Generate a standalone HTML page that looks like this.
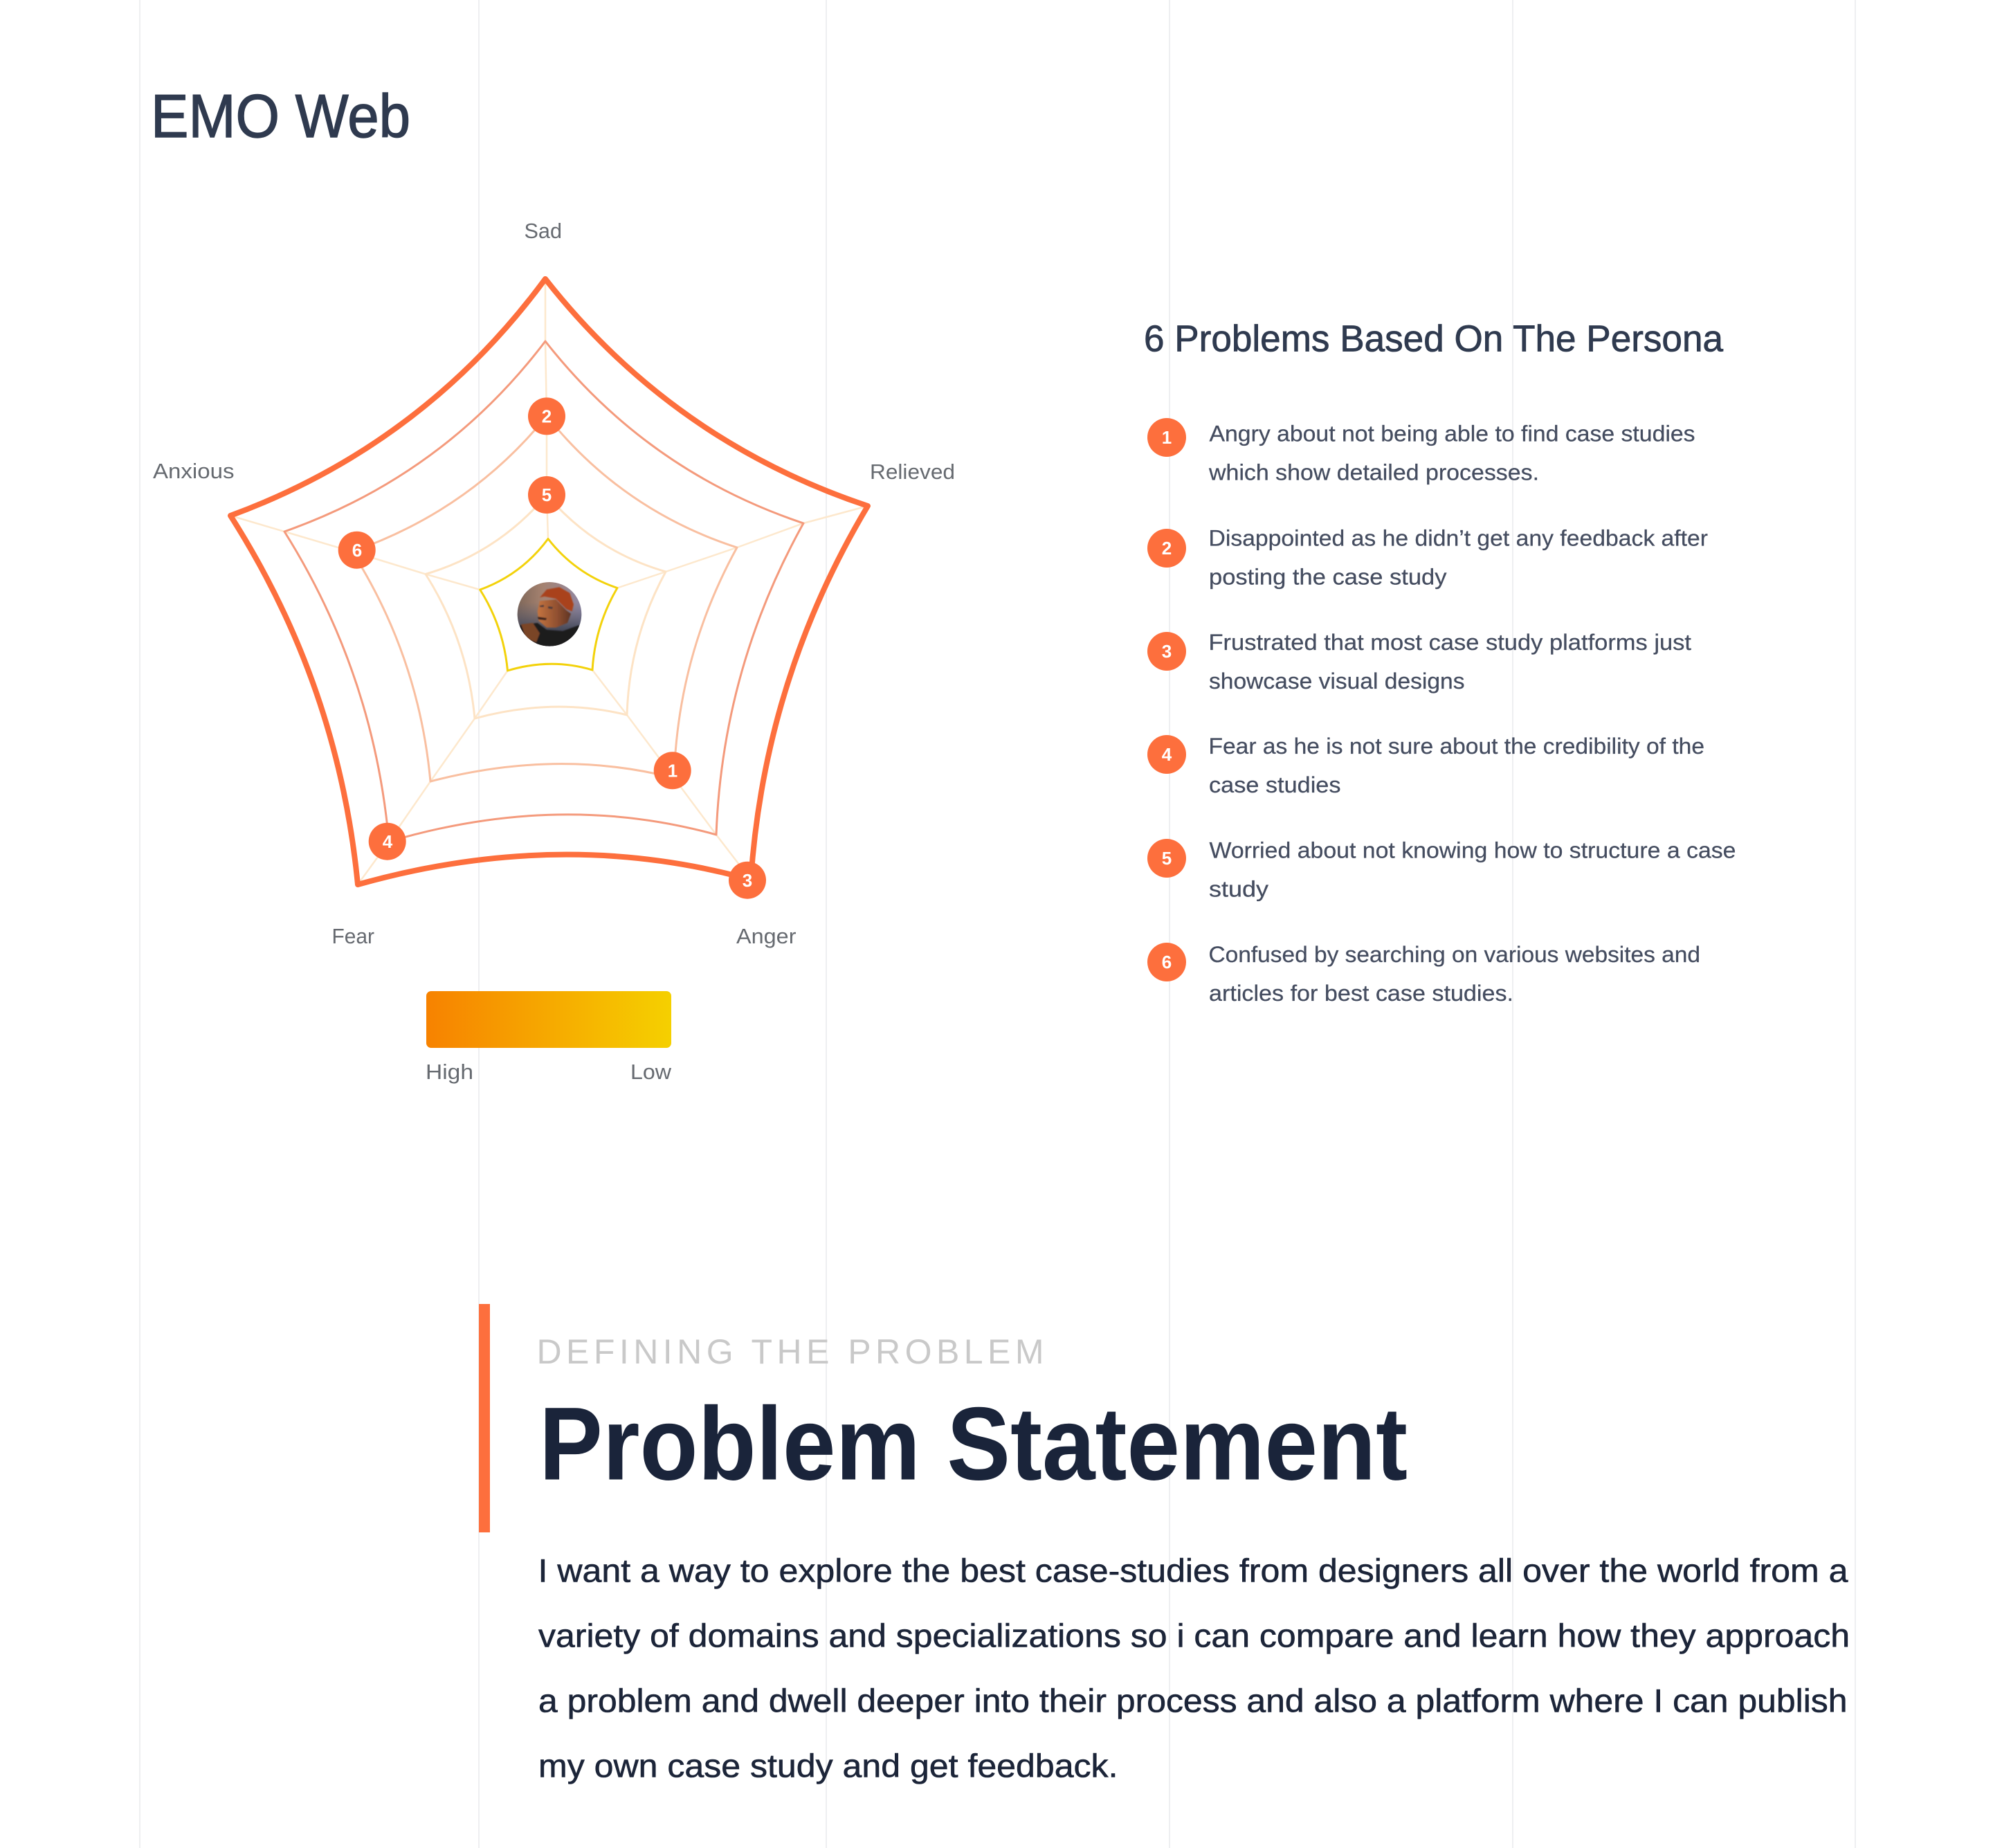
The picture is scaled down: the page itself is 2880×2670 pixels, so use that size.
<!DOCTYPE html>
<html lang="en">
<head>
<meta charset="utf-8">
<title>EMO Web</title>
<style>
html,body{margin:0;padding:0;background:#fff;width:2880px;height:2670px;overflow:hidden}
svg{display:block}
text{font-family:"Liberation Sans",Arial,sans-serif}
.lab{font-size:31px;fill:#666a70}
.li{font-size:32px;fill:#454d60;stroke:#454d60;stroke-width:.25px}
.p{font-size:47px;fill:#1c2539;stroke:#1c2539;stroke-width:.6px}
.n{font-size:26px;font-weight:700;fill:#fff;text-anchor:middle}
</style>
</head>
<body>
<svg xmlns="http://www.w3.org/2000/svg" width="2880" height="2670" viewBox="0 0 2880 2670">
<defs>
<linearGradient id="bar" x1="0" x2="1" y1="0" y2="0"><stop offset="0" stop-color="#f78200"/><stop offset="1" stop-color="#f5d000"/></linearGradient>
<linearGradient id="av" x1="0" x2="1" y1="0" y2="0"><stop offset="0" stop-color="#7d6658"/><stop offset=".4" stop-color="#a58270"/><stop offset="1" stop-color="#8f88a6"/></linearGradient>
<linearGradient id="av2" x1="0" x2="0" y1="0" y2="1"><stop offset="0" stop-color="#5c6074" stop-opacity="0"/><stop offset=".55" stop-color="#454a5c" stop-opacity=".9"/><stop offset="1" stop-color="#15141a"/></linearGradient>
<linearGradient id="skin" x1="0" x2="1" y1="0" y2="0"><stop offset="0" stop-color="#c4743f"/><stop offset=".6" stop-color="#8f4f30"/><stop offset="1" stop-color="#5e3424"/></linearGradient>
<clipPath id="avc"><circle cx="794" cy="887.3" r="46.3"/></clipPath>
<filter id="soft" x="-5%" y="-5%" width="110%" height="110%"><feGaussianBlur stdDeviation="0.8"/></filter>
</defs>
<rect width="2880" height="2670" fill="#fff"/>

<!-- page grid -->
<g stroke="#eeeff1" stroke-width="2">
<line x1="202" y1="0" x2="202" y2="2670"/>
<line x1="692" y1="0" x2="692" y2="2670"/>
<line x1="1194" y1="0" x2="1194" y2="2670"/>
<line x1="1690" y1="0" x2="1690" y2="2670"/>
<line x1="2186" y1="0" x2="2186" y2="2670"/>
<line x1="2681" y1="0" x2="2681" y2="2670"/>
</g>

<text x="218" y="198" font-size="88" fill="#2f3a4f" stroke="#2f3a4f" stroke-width="1.4" textLength="375" lengthAdjust="spacingAndGlyphs">EMO Web</text>

<!-- spokes -->
<g fill="none" stroke="#fde8cd" stroke-width="2.5">
<polyline points="788,403 788,493 790,601 790,715 792,778.5"/>
<polyline points="1254,731 1161,756 1065,791 962,826 892,849.5"/>
<polyline points="1085,1271 1035,1206 974,1124 906,1033 856,968"/>
<polyline points="517,1278 562,1216 622,1129 686,1038 733.5,969"/>
<polyline points="333,745 411,768 509,797 615,829.5 693.7,852"/>
</g>

<!-- rings -->
<g fill="none" stroke-linejoin="round">
<path stroke="#fde3c5" stroke-width="3" d="M790,715 Q859.3,796.3 962,826 Q909.2,922.8 906,1033 Q800,1007 686,1038 Q675.5,925.2 615,829.5 Q719.7,798.5 790,715 Z"/>
<path stroke="#f9bfa0" stroke-width="3" d="M790,601 Q899,737.3 1065,791 Q979.5,946.6 974,1124 Q806,1081 622,1129 Q605.3,949.4 509,797 Q680,737 790,601 Z"/>
<path stroke="#f49a7c" stroke-width="3" d="M788,493 Q935,680.5 1161,756 Q1044,966 1035,1206 Q808,1143 562,1216 Q540.3,973.9 411,768 Q640.8,687 788,493 Z"/>
<path stroke="#fd6f3d" stroke-width="8" d="M788,403 Q971.8,636.9 1254,731 Q1104.7,980.7 1085,1271 Q812,1195 517,1278 Q489,989.4 333,745 Q611.8,642.3 788,403 Z"/>
<path stroke="#f3d20b" stroke-width="3" d="M792,778.5 Q831.3,829 892,849.5 Q859.8,904.4 856,968 Q796,950 733.5,969 Q727.7,905.7 693.7,852 Q753.9,830 792,778.5 Z"/>
</g>

<!-- avatar -->
<g clip-path="url(#avc)">
<rect x="746" y="840" width="96" height="96" fill="url(#av)"/>
<rect x="746" y="870" width="96" height="66" fill="url(#av2)"/>
<g filter="url(#soft)">
<polygon fill="url(#skin)" points="780,868.3 803.3,866 818.3,881.7 825,886.7 820,900 803.3,906.7 790,906.7 778.3,896.7 776.7,883.3"/>
<polygon fill="#1d1a1e" points="751.7,903.3 776.7,900 790,910 813.3,911.7 836.7,903.3 840,933.3 746.7,933.3"/>
<polygon fill="#a9421e" points="780,863.3 790,851.7 808.3,848.3 823.3,856.7 829,873.3 826.7,883.3 818.3,880 803.3,865 786.7,861.7"/>
<polygon fill="#7a4528" points="753,902 770,900 780,915 775,928 760,922"/>
<polygon fill="#3a241c" points="777,891 790,893 789,896 778,895"/>
<polygon fill="#4a3a3a" points="780,875 786,874 786,877 780,877"/>
<polygon fill="#4a3a3a" points="792,876 799,877 798,880 792,879"/>
</g>
</g>

<!-- radar badges -->
<g fill="#fd6f3d">
<circle cx="790" cy="601.4" r="27"/>
<circle cx="790" cy="715" r="27"/>
<circle cx="515.7" cy="794.7" r="27"/>
<circle cx="971.7" cy="1113.3" r="27"/>
<circle cx="559.7" cy="1215.7" r="27"/>
<circle cx="1080" cy="1271.7" r="27"/>
</g>
<text class="n" x="790" y="610.5">2</text>
<text class="n" x="790" y="724">5</text>
<text class="n" x="516" y="804">6</text>
<text class="n" x="972" y="1122.5">1</text>
<text class="n" x="560" y="1225">4</text>
<text class="n" x="1080" y="1281">3</text>

<!-- axis labels -->
<text class="lab" x="757.5" y="344" textLength="54.5" lengthAdjust="spacingAndGlyphs">Sad</text>
<text class="lab" x="221" y="691" textLength="117.5" lengthAdjust="spacingAndGlyphs">Anxious</text>
<text class="lab" x="1257" y="692" textLength="123" lengthAdjust="spacingAndGlyphs">Relieved</text>
<text class="lab" x="479.5" y="1363" textLength="61.5" lengthAdjust="spacingAndGlyphs">Fear</text>
<text class="lab" x="1064" y="1363" textLength="86.5" lengthAdjust="spacingAndGlyphs">Anger</text>

<!-- legend -->
<rect x="616" y="1432" width="354" height="82" rx="7" fill="url(#bar)"/>
<text class="lab" x="615" y="1559" textLength="69" lengthAdjust="spacingAndGlyphs">High</text>
<text class="lab" x="911" y="1559" textLength="59" lengthAdjust="spacingAndGlyphs">Low</text>

<!-- right column -->
<text x="1653" y="507.5" font-size="54" fill="#2f3a4f" stroke="#2f3a4f" stroke-width=".8" textLength="837" lengthAdjust="spacingAndGlyphs">6 Problems Based On The Persona</text>

<g fill="#fd6f3d">
<circle cx="1686" cy="632" r="28"/>
<circle cx="1686" cy="792" r="28"/>
<circle cx="1686" cy="941" r="28"/>
<circle cx="1686" cy="1090" r="28"/>
<circle cx="1686" cy="1240" r="28"/>
<circle cx="1686" cy="1390" r="28"/>
</g>
<text class="n" x="1686" y="641">1</text>
<text class="n" x="1686" y="801">2</text>
<text class="n" x="1686" y="950">3</text>
<text class="n" x="1686" y="1099">4</text>
<text class="n" x="1686" y="1249">5</text>
<text class="n" x="1686" y="1399">6</text>

<text class="li" x="1747.5" y="637.5" textLength="702" lengthAdjust="spacingAndGlyphs">Angry about not being able to find case studies</text>
<text class="li" x="1747" y="693.5" textLength="477" lengthAdjust="spacingAndGlyphs">which show detailed processes.</text>
<text class="li" x="1746.5" y="788.5" textLength="721.5" lengthAdjust="spacingAndGlyphs">Disappointed as he didn’t get any feedback after</text>
<text class="li" x="1747" y="844.5" textLength="343.5" lengthAdjust="spacingAndGlyphs">posting the case study</text>
<text class="li" x="1746.5" y="939" textLength="697.5" lengthAdjust="spacingAndGlyphs">Frustrated that most case study platforms just</text>
<text class="li" x="1747" y="995" textLength="369.5" lengthAdjust="spacingAndGlyphs">showcase visual designs</text>
<text class="li" x="1746.5" y="1089" textLength="716.5" lengthAdjust="spacingAndGlyphs">Fear as he is not sure about the credibility of the</text>
<text class="li" x="1747" y="1145" textLength="190.5" lengthAdjust="spacingAndGlyphs">case studies</text>
<text class="li" x="1747.5" y="1239.5" textLength="761" lengthAdjust="spacingAndGlyphs">Worried about not knowing how to structure a case</text>
<text class="li" x="1747" y="1295.5" textLength="86" lengthAdjust="spacingAndGlyphs">study</text>
<text class="li" x="1746.5" y="1390" textLength="710.5" lengthAdjust="spacingAndGlyphs">Confused by searching on various websites and</text>
<text class="li" x="1747" y="1446" textLength="440" lengthAdjust="spacingAndGlyphs">articles for best case studies.</text>

<!-- problem statement -->
<rect x="692" y="1884" width="16" height="330" fill="#fd6f3d"/>
<text x="775.5" y="1970" font-size="50" fill="#c9c9c9" textLength="733" lengthAdjust="spacing">DEFINING THE PROBLEM</text>
<text x="779" y="2137.5" font-size="150" font-weight="700" fill="#1a243a" textLength="1255" lengthAdjust="spacingAndGlyphs">Problem Statement</text>

<text class="p" x="777.5" y="2285.5" textLength="1893" lengthAdjust="spacingAndGlyphs">I want a way to explore the best case-studies from designers all over the world from a</text>
<text class="p" x="778" y="2379.5" textLength="1895" lengthAdjust="spacingAndGlyphs">variety of domains and specializations so i can compare and learn how they approach</text>
<text class="p" x="778" y="2473.5" textLength="1891.5" lengthAdjust="spacingAndGlyphs">a problem and dwell deeper into their process and also a platform where I can publish</text>
<text class="p" x="778" y="2567.5" textLength="837.5" lengthAdjust="spacingAndGlyphs">my own case study and get feedback.</text>
</svg>
</body>
</html>
